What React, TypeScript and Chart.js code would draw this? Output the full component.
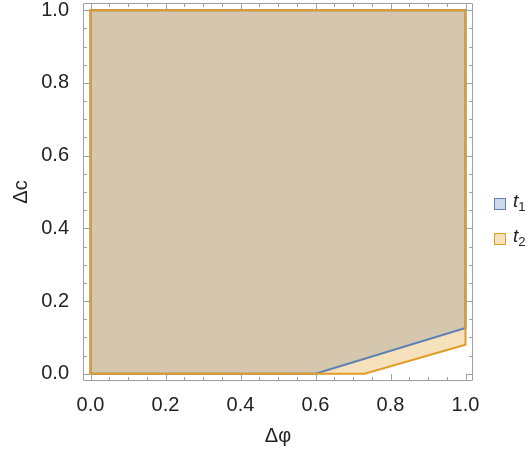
import { useEffect, useRef } from "react";
import { Chart, registerables } from "chart.js";

Chart.register(...registerables);

// ---- data ----
const majorTicks = [0, 0.2, 0.4, 0.6, 0.8, 1.0];
const minorTicks = [0.05, 0.1, 0.15, 0.25, 0.3, 0.35, 0.45, 0.5, 0.55, 0.65, 0.7, 0.75, 0.85, 0.9, 0.95];
const seriesNames = ["t1", "t2"];
// lower boundary of region t1 (region extends up to regionTop)
const t1BoundaryX = [0, 0.6, 1];
const t1BoundaryY = [0, 0, 0.126];
// lower boundary of region t2
const t2BoundaryX = [0, 0.731, 1];
const t2BoundaryY = [0, 0, 0.08];
const regionLeft = 0;
const regionRight = 1;
const regionTop = 1;

const BLUE = "rgb(94,129,181)";
const ORANGE = "rgb(225,156,36)";
const BLUE_FILL = "rgba(94,129,181,0.3)";
const ORANGE_FILL = "rgba(225,156,36,0.3)";
const FONT = "'Liberation Sans', Arial, sans-serif";

const lowerPts = (xs: number[], ys: number[]) => xs.map((x, i) => ({ x, y: ys[i] }));
const outlinePts = (xs: number[], ys: number[]) => [
  ...lowerPts(xs, ys),
  { x: regionRight, y: regionTop },
  { x: regionLeft, y: regionTop },
  { x: xs[0], y: ys[0] },
];

const frameTicksPlugin = {
  id: "frameTicks",
  afterDatasetsDraw(chart: any) {
    const { ctx, chartArea, scales } = chart;
    const { left, right, top, bottom } = chartArea;
    const xs = scales.x;
    const ys = scales.y;
    ctx.save();
    ctx.strokeStyle = "#a0a0a0";
    ctx.lineWidth = 1;
    ctx.beginPath();
    ctx.rect(Math.round(left) + 0.5, Math.round(top) + 0.5, Math.round(right - left) - 1, Math.round(bottom - top) - 1);
    ctx.stroke();
    const draw = (vals: number[], len: number) => {
      ctx.beginPath();
      vals.forEach((v) => {
        const px = Math.round(xs.getPixelForValue(v)) + 0.5;
        ctx.moveTo(px, bottom);
        ctx.lineTo(px, bottom - len);
        ctx.moveTo(px, top);
        ctx.lineTo(px, top + len);
        const py = Math.round(ys.getPixelForValue(v)) + 0.5;
        ctx.moveTo(left, py);
        ctx.lineTo(left + len, py);
        ctx.moveTo(right, py);
        ctx.lineTo(right - len, py);
      });
      ctx.stroke();
    };
    draw(majorTicks, 7);
    draw(minorTicks, 4);
    ctx.restore();
  },
};

export default function App() {
  const ref = useRef<HTMLCanvasElement>(null);
  useEffect(() => {
    if (!ref.current) return;
    const chart = new Chart(ref.current, {
      type: "scatter",
      data: {
        datasets: [
          {
            label: "t2 outline",
            data: outlinePts(t2BoundaryX, t2BoundaryY),
            showLine: true,
            borderColor: ORANGE,
            borderWidth: 2,
            pointRadius: 0,
            fill: false,
          },
          {
            label: "t1 outline",
            data: outlinePts(t1BoundaryX, t1BoundaryY),
            showLine: true,
            borderColor: BLUE,
            borderWidth: 2,
            pointRadius: 0,
            fill: false,
          },
          {
            label: seriesNames[1],
            data: lowerPts(t2BoundaryX, t2BoundaryY),
            showLine: true,
            borderWidth: 0,
            borderColor: "transparent",
            backgroundColor: ORANGE_FILL,
            pointRadius: 0,
            fill: { value: regionTop },
          },
          {
            label: seriesNames[0],
            data: lowerPts(t1BoundaryX, t1BoundaryY),
            showLine: true,
            borderWidth: 0,
            borderColor: "transparent",
            backgroundColor: BLUE_FILL,
            pointRadius: 0,
            fill: { value: regionTop },
          },
        ] as any,
      },
      options: {
        animation: false,
        responsive: false,
        layout: { padding: { top: 3, right: 57, left: 0, bottom: 0 } },
        plugins: { legend: { display: false }, tooltip: { enabled: false } },
        scales: {
          x: {
            type: "linear",
            min: -0.02,
            max: 1.02,
            afterBuildTicks: (s: any) => {
              s.ticks = majorTicks.map((v) => ({ value: v }));
            },
            afterFit: (s: any) => {
              s.height = 71;
              s.paddingLeft = 0;
              s.paddingRight = 0;
            },
            ticks: {
              callback: (v: any) => Number(v).toFixed(1),
              font: { family: FONT, size: 20 },
              color: "#222",
              padding: 4,
              maxRotation: 0,
              autoSkip: false,
            },
            grid: { display: false },
            border: { display: false },
            title: {
              display: true,
              text: "Δφ",
              font: { family: FONT, size: 20 },
              color: "#222",
              padding: { top: 0, bottom: 4 },
            },
          },
          y: {
            type: "linear",
            min: -0.02,
            max: 1.02,
            afterBuildTicks: (s: any) => {
              s.ticks = majorTicks.map((v) => ({ value: v }));
            },
            afterFit: (s: any) => {
              s.width = 83;
              s.paddingTop = 0;
              s.paddingBottom = 0;
            },
            ticks: {
              callback: (v: any) => Number(v).toFixed(1),
              font: { family: FONT, size: 20 },
              color: "#222",
              padding: 6,
              autoSkip: false,
            },
            grid: { display: false },
            border: { display: false },
            title: {
              display: true,
              text: "Δc",
              font: { family: FONT, size: 20 },
              color: "#222",
              padding: { top: 9, bottom: 0 },
            },
          },
        },
      } as any,
      plugins: [frameTicksPlugin],
    });
    return () => chart.destroy();
  }, []);

  const legendItem = (name: string, top: number, fill: string, border: string) => (
    <div key={name} style={{ position: "absolute", left: 494, top, height: 12, display: "flex", alignItems: "center" }}>
      <div style={{ width: 10, height: 10, background: fill, border: `1px solid ${border}` }} />
      <span style={{ marginLeft: 7, fontFamily: FONT, fontSize: 19, color: "#222", lineHeight: "12px", whiteSpace: "nowrap" }}>
        <i>{name[0]}</i>
        <sub style={{ fontSize: 13, verticalAlign: "-4px" }}>{name.slice(1)}</sub>
      </span>
    </div>
  );

  return (
    <div style={{ position: "fixed", left: 0, top: 0, width: 530, height: 452, background: "#fff" }}>
      <canvas ref={ref} width={530} height={452} />
      {legendItem(seriesNames[0], 198, "rgb(207,217,233)", BLUE)}
      {legendItem(seriesNames[1], 233, "rgb(246,225,189)", ORANGE)}
    </div>
  );
}
